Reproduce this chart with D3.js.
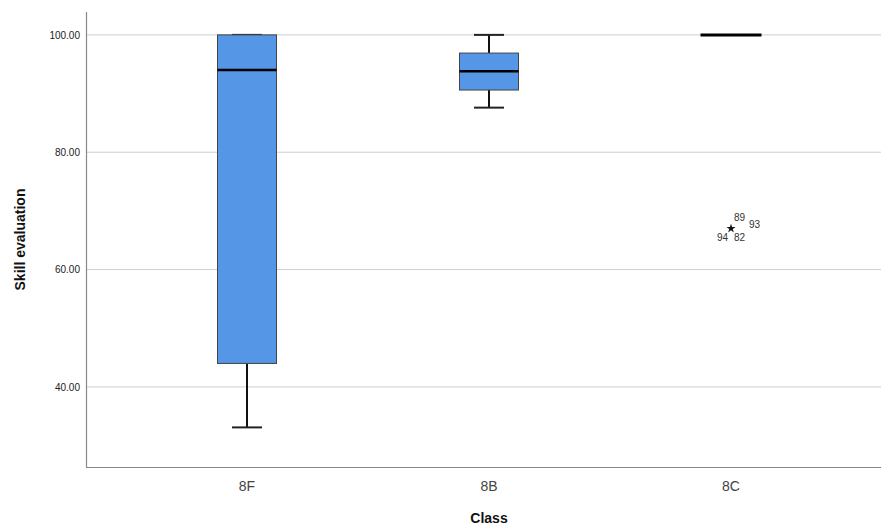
<!DOCTYPE html>
<html>
<head>
<meta charset="utf-8">
<script src="https://cdn.jsdelivr.net/npm/d3@7"></script>
<style>
  body { margin: 0; background: #fff; }
  text { font-family: Arial, "Liberation Sans", sans-serif; }
</style>
</head>
<body>
<svg id="chart" width="881" height="527"></svg>
<script>
// data
const classes = ["8F", "8B", "8C"];
const minVals = [33.1, 87.6, 100];
const q1Vals = [44, 90.6, 100];
const medianVals = [94, 93.8, 100];
const q3Vals = [100, 96.9, 100];
const maxVals = [100, 100, 100];
// extreme outliers (star) for 8C
const outlierClass = ["8C"];
const outlierValue = [67];
const outlierIds = [["89", "93", "94", "82"]];
const yTicks = [40, 60, 80, 100];

const svg = d3.select("#chart");
const width = +svg.attr("width");
const height = +svg.attr("height");

const plotLeft = 86, plotRight = 881, plotTop = 12, plotBottom = 467;

const y = d3.scaleLinear().domain([26.35, 103.9]).range([plotBottom, plotTop]);
const x = d3.scaleBand().domain(classes).range([126, 852]);
const boxW = 59;
const capW = 30;

// grid lines
svg.append("g")
    .selectAll("line")
    .data(yTicks)
    .join("line")
    .attr("x1", plotLeft).attr("x2", plotRight)
    .attr("y1", d => y(d)).attr("y2", d => y(d))
    .attr("stroke", "#cfcfcf")
    .attr("stroke-width", 1);

// y axis
const yAxis = svg.append("g")
    .attr("transform", `translate(${plotLeft},0)`)
    .call(d3.axisLeft(y).tickValues(yTicks).tickSize(0).tickPadding(6).tickFormat(d3.format(".2f")));
yAxis.select(".domain").remove();
yAxis.selectAll("text").style("font-size", "10px").attr("fill", "#222");

// x axis
const xAxis = svg.append("g")
    .attr("transform", `translate(0,${plotBottom})`)
    .call(d3.axisBottom(x).tickSize(0).tickPadding(14));
xAxis.select(".domain").remove();
xAxis.selectAll("text").style("font-size", "14px").attr("fill", "#444");

// axis lines
svg.append("line")
    .attr("x1", plotLeft + 0.5).attr("x2", plotLeft + 0.5)
    .attr("y1", plotTop).attr("y2", plotBottom)
    .attr("stroke", "#888").attr("stroke-width", 1.2);
svg.append("line")
    .attr("x1", plotLeft).attr("x2", plotRight)
    .attr("y1", plotBottom + 0.5).attr("y2", plotBottom + 0.5)
    .attr("stroke", "#888").attr("stroke-width", 1.2);

// boxes
classes.forEach((c, i) => {
    const cx = x(c) + x.bandwidth() / 2;
    const g = svg.append("g");
    const flat = q3Vals[i] <= q1Vals[i];

    if (!flat) {
        // whiskers
        g.append("line")
            .attr("x1", cx).attr("x2", cx)
            .attr("y1", y(minVals[i])).attr("y2", y(q1Vals[i]))
            .attr("stroke", "#111").attr("stroke-width", 2);
        g.append("line")
            .attr("x1", cx).attr("x2", cx)
            .attr("y1", y(maxVals[i])).attr("y2", y(q3Vals[i]))
            .attr("stroke", "#111").attr("stroke-width", 2);
        [minVals[i], maxVals[i]].forEach(v => {
            g.append("line")
                .attr("x1", cx - capW / 2).attr("x2", cx + capW / 2)
                .attr("y1", y(v)).attr("y2", y(v))
                .attr("stroke", "#222").attr("stroke-width", 2);
        });

        g.append("rect")
            .attr("x", cx - boxW / 2)
            .attr("y", y(q3Vals[i]))
            .attr("width", boxW)
            .attr("height", y(q1Vals[i]) - y(q3Vals[i]))
            .attr("fill", "#5596e6")
            .attr("stroke", "#444")
            .attr("stroke-width", 1);
    }

    g.append("line")
        .attr("x1", cx - boxW / 2 - (flat ? 1 : 0)).attr("x2", cx + boxW / 2 + (flat ? 1 : 0))
        .attr("y1", y(medianVals[i])).attr("y2", y(medianVals[i]))
        .attr("stroke", "#000").attr("stroke-width", flat ? 3 : 2.5);
});

// outliers
outlierClass.forEach((c, i) => {
    const cx = x(c) + x.bandwidth() / 2;
    const cy = y(outlierValue[i]);
    svg.append("path")
        .attr("d", d3.symbol(d3.symbolStar, 26)())
        .attr("transform", `translate(${cx},${cy})`)
        .attr("fill", "#111");
    const ids = outlierIds[i];
    const offs = [[3, -7, "start"], [18, 0, "start"], [-3, 13, "end"], [3, 13, "start"]];
    ids.forEach((id, k) => {
        svg.append("text")
            .attr("x", cx + offs[k][0])
            .attr("y", cy + offs[k][1])
            .attr("text-anchor", offs[k][2])
            .style("font-size", "10px")
            .attr("fill", "#333")
            .text(id);
    });
});

// axis titles
svg.append("text")
    .attr("x", (x("8B") + x.bandwidth() / 2))
    .attr("y", 523)
    .attr("text-anchor", "middle")
    .style("font-size", "14px")
    .style("font-weight", "bold")
    .attr("fill", "#111")
    .text("Class");

svg.append("text")
    .attr("transform", `translate(25,${(plotTop + plotBottom) / 2}) rotate(-90)`)
    .attr("text-anchor", "middle")
    .style("font-size", "14px")
    .style("font-weight", "bold")
    .attr("fill", "#111")
    .text("Skill evaluation");
</script>
</body>
</html>
